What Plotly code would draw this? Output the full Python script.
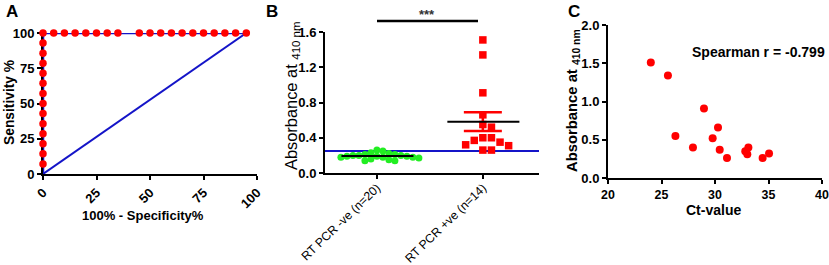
import plotly.graph_objects as go
import numpy as np

W, H = 829, 265

# ---------------- data ----------------
# Panel A: ROC curve
roc_fpr = [0]*14 + [5, 10, 15, 20, 25, 30, 35, 45, 50, 55, 60, 65, 70, 75, 80, 85, 90, 95]
roc_sens = [7.14, 14.29, 21.43, 28.57, 35.71, 42.86, 50, 57.14, 64.29, 71.43, 78.57, 85.71, 92.86, 100] + [100]*18
ref_x = [0, 95]
ref_y = [0, 100]
a_ticks = [0, 25, 50, 75, 100]

# Panel B: absorbance by group
b_categories = ["RT PCR -ve (n=20)", "RT PCR +ve (n=14)"]
abs_neg = [0.26, 0.25, 0.23, 0.22, 0.21, 0.21, 0.20, 0.20, 0.20, 0.19,
           0.19, 0.19, 0.18, 0.18, 0.18, 0.17, 0.16, 0.15, 0.14, 0.14]
# Panel C (also the positive group of panel B)
ct_values = [24.0, 25.6, 28.97, 26.3, 30.28, 27.94, 29.78, 30.44, 31.12, 32.83, 33.12, 33.02, 34.45, 35.05]
abs_pos = [1.51, 1.34, 0.91, 0.55, 0.66, 0.40, 0.52, 0.37, 0.26, 0.35, 0.40, 0.31, 0.26, 0.32]
cutoff = 0.25
spearman_text = "Spearman r = -0.799"

# ---------------- helpers ----------------
def px(x):
    return x / W

def py(y):
    return 1 - y / H

def swarm(vals, x_px_per_unit, y_px_per_unit, d):
    placed = []
    offs = [0.0] * len(vals)
    cands = [0]
    for k in range(1, 10):
        cands += [k, -k]
    for i in sorted(range(len(vals)), key=lambda j: -vals[j]):
        y = vals[i] * y_px_per_unit
        xo = 0
        for c in cands:
            xo = c * d
            if all((xo - a) ** 2 + (y - b) ** 2 >= d * d * 0.999 for a, b in placed):
                break
        placed.append((xo, y))
        offs[i] = xo / x_px_per_unit
    return offs

RED = "#FF0000"
BLUE = "#1414C8"
GREEN = "#22EE22"
FONT = "Liberation Sans, Arial, sans-serif"

fig = go.Figure()

# ---------------- Panel A ----------------
fig.add_trace(go.Scatter(x=ref_x, y=ref_y, mode="lines", line=dict(color=BLUE, width=2),
                         xaxis="x", yaxis="y", cliponaxis=False, showlegend=False))
fig.add_trace(go.Scatter(x=[0] + roc_fpr, y=[0] + roc_sens, mode="lines",
                         line=dict(color=BLUE, width=2.5),
                         xaxis="x", yaxis="y", cliponaxis=False, showlegend=False))
fig.add_trace(go.Scatter(x=roc_fpr, y=roc_sens, mode="markers",
                         marker=dict(color=RED, size=7.5),
                         xaxis="x", yaxis="y", cliponaxis=False, showlegend=False))

# ---------------- Panel B ----------------
bx_per_unit = 106.0
by_per_unit = 88.1
neg_off = swarm(abs_neg, bx_per_unit, by_per_unit, 6.0)
pos_off = swarm(abs_pos, bx_per_unit, by_per_unit, 8.6)

fig.add_trace(go.Scatter(x=[0 + o for o in neg_off], y=abs_neg, mode="markers",
                         marker=dict(color=GREEN, size=7, symbol="circle"),
                         xaxis="x2", yaxis="y2", cliponaxis=False, showlegend=False))
fig.add_trace(go.Scatter(x=[1 + o for o in pos_off], y=abs_pos, mode="markers",
                         marker=dict(color=RED, size=7.5, symbol="square"),
                         xaxis="x2", yaxis="y2", cliponaxis=False, showlegend=False))

for ci, vals in enumerate([abs_neg, abs_pos]):
    arr = np.array(vals)
    m = arr.mean()
    sem = arr.std(ddof=1) / np.sqrt(len(arr))
    if ci == 1:
        fig.add_trace(go.Scatter(x=[ci], y=[m], mode="markers",
                                 marker=dict(size=1, color="rgba(0,0,0,0)"),
                                 error_y=dict(type="data", array=[sem], visible=True,
                                              color=RED, thickness=2.5, width=19),
                                 xaxis="x2", yaxis="y2", showlegend=False))
    fig.add_trace(go.Scatter(x=[ci - 0.335, ci + 0.345], y=[m, m], mode="lines",
                             line=dict(color="black", width=2),
                             xaxis="x2", yaxis="y2", showlegend=False))

# ---------------- Panel C ----------------
fig.add_trace(go.Scatter(x=ct_values, y=abs_pos, mode="markers",
                         marker=dict(color=RED, size=8),
                         xaxis="x3", yaxis="y3", cliponaxis=False, showlegend=False))

# ---------------- axes ----------------
axis_common = dict(showgrid=False, zeroline=False, showline=True, linewidth=2, linecolor="black",
                   ticks="outside", ticklen=4, tickwidth=2, tickcolor="black", automargin=False,
                   tickfont=dict(family=FONT, size=13, color="black", weight="bold"),
                   layer="below traces")

fig.update_layout(
    width=W, height=H,
    margin=dict(l=0, r=0, t=0, b=0, autoexpand=False),
    paper_bgcolor="white", plot_bgcolor="white",
    xaxis=dict(axis_common, domain=[px(43), px(257)], range=[0, 100], tickvals=a_ticks,
               tickangle=-45, anchor="y"),
    yaxis=dict(axis_common, domain=[py(174), py(33)], range=[0, 100], tickvals=a_ticks,
               anchor="x"),
    xaxis2=dict(axis_common, domain=[px(325), px(539)], range=[-0.49, 1.53],
                tickvals=[0, 1], ticktext=b_categories, tickangle=-44, ticklabelstandoff=-3,
                tickfont=dict(family=FONT, size=12.2, color="black"), anchor="y2"),
    yaxis2=dict(axis_common, domain=[py(173), py(32)], range=[0, 1.6],
                tickvals=[0, 0.4, 0.8, 1.2, 1.6], tickformat=".1f", anchor="x2"),
    xaxis3=dict(axis_common, domain=[px(608), px(822)], range=[20, 40],
                tickvals=[20, 25, 30, 35, 40], anchor="y3",
                tickfont=dict(family=FONT, size=12.4, color="black", weight="bold")),
    yaxis3=dict(axis_common, domain=[py(178), py(25)], range=[0, 2],
                tickvals=[0, 0.5, 1.0, 1.5, 2.0], tickformat=".1f", anchor="x3"),
)

# cutoff line in panel B
fig.add_shape(type="line", xref="x2 domain", yref="y2", x0=0, x1=1, y0=cutoff, y1=cutoff,
              line=dict(color=BLUE, width=2), layer="below")
# significance bar
fig.add_shape(type="line", xref="paper", yref="paper", x0=px(377), x1=px(478),
              y0=py(21), y1=py(21), line=dict(color="black", width=2.5))

ann = []
def text(x, y, s, size=13, bold=True, angle=0, xanchor="center", yanchor="middle", color="black"):
    ann.append(dict(x=px(x), y=py(y), xref="paper", yref="paper", text=s, showarrow=False,
                    textangle=angle, xanchor=xanchor, yanchor=yanchor,
                    font=dict(family=FONT, size=size, color=color,
                              weight="bold" if bold else "normal")))

# panel letters
text(4, 12, "A", size=17, xanchor="left")
text(264, 12, "B", size=17, xanchor="left")
text(566, 12, "C", size=17, xanchor="left")
# axis titles
text(143, 215, "100% - Specificity%", size=13)
text(9, 103, "Sensitivity %", size=13.8, angle=-90)
text(292, 96, "Absorbance at <sub>410 nm</sub>", size=16.4, bold=False, angle=-90)
text(573, 101, "Absorbance at <sub>410 nm</sub>", size=14.8, angle=-90)
text(713, 210, "Ct-value", size=14)
text(827, 52, spearman_text, size=14, xanchor="right")
text(427, 15, "***", size=13, color="#333333")

fig.update_layout(annotations=ann)
fig.write_html("out.html", config={"displayModeBar": False},
               post_script="document.body.style.margin='0';document.body.style.overflow='hidden';")
